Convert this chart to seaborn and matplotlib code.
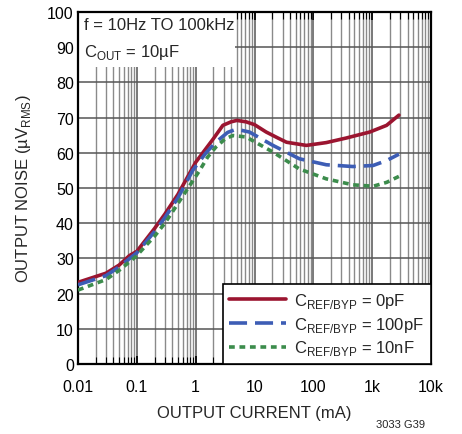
import numpy as np
import pandas as pd
import matplotlib
matplotlib.use("Agg")
import matplotlib.pyplot as plt
import seaborn as sns
from matplotlib.ticker import LogLocator, FixedLocator, NullFormatter, FixedFormatter
from matplotlib import font_manager as fm

# ---- data ----
x_0pF = [0.01, 0.03, 0.05, 0.075, 0.1, 0.2, 0.3, 0.5, 1.0, 2.0, 2.9, 4.0, 5.0, 7.2, 10, 15.8, 25, 35, 76, 166, 363, 910, 1760, 2850]
y_0pF = [23.2, 25.8, 28.1, 30.8, 32.0, 38.5, 42.6, 48.2, 57.3, 64.0, 67.8, 68.8, 69.2, 68.8, 68.0, 65.9, 64.2, 63.0, 62.1, 62.9, 64.2, 65.9, 67.8, 70.7]

x_100pF = [0.01, 0.03, 0.05, 0.1, 0.2, 0.3, 0.5, 0.89, 1.5, 2.2, 3.5, 4.9, 8.2, 20.6, 58, 166, 470, 1040, 1760, 2850]
y_100pF = [22.5, 25.1, 27.6, 31.6, 37.6, 41.6, 47.2, 55.0, 60.0, 63.0, 65.8, 66.7, 65.9, 62.1, 58.3, 56.6, 56.1, 56.4, 57.8, 59.6]

x_10nF = [0.01, 0.03, 0.05, 0.096, 0.2, 0.3, 0.5, 1.17, 1.6, 2.2, 3.2, 4.3, 7.2, 20.6, 58, 166, 470, 1040, 1760, 2850]
y_10nF = [21.0, 24.0, 26.6, 30.5, 36.3, 40.0, 45.6, 55.0, 58.8, 61.6, 64.0, 64.9, 64.5, 60.2, 55.4, 52.6, 50.9, 50.5, 51.6, 53.3]

labels = [r"C$_{\mathregular{REF/BYP}}$ = 0pF",
          r"C$_{\mathregular{REF/BYP}}$ = 100pF",
          r"C$_{\mathregular{REF/BYP}}$ = 10nF"]
colors = ["#9B1530", "#3D5DB5", "#3C8C4C"]

xticks = [0.01, 0.1, 1, 10, 100, 1000, 10000]
xticklabels = ["0.01", "0.1", "1", "10", "100", "1k", "10k"]
yticks = list(range(0, 101, 10))

sns.set_theme(style="white")
names = {f.name for f in fm.fontManager.ttflist}
main = "Liberation Sans Narrow" if "Liberation Sans Narrow" in names else "Liberation Sans"
narrow = main == "Liberation Sans Narrow"
plt.rcParams["font.family"] = [main, "DejaVu Sans"]
plt.rcParams["mathtext.fontset"] = "custom"
plt.rcParams["mathtext.rm"] = main
fs = 13.5 if narrow else 12
fst = 13 if narrow else 11.5

fig = plt.figure(figsize=(4.62, 4.35), dpi=100)
ax = fig.add_axes([78/462, 1-365/435, (431-78)/462, (365-13)/435])

dfs = [pd.DataFrame({"x": x_0pF, "y": y_0pF}),
       pd.DataFrame({"x": x_100pF, "y": y_100pF}),
       pd.DataFrame({"x": x_10nF, "y": y_10nF})]
styles = [dict(linestyle="-"), dict(dashes=(5, 2.2)), dict(dashes=(1.6, 1.3))]
for df, lab, col, st in zip(dfs, labels, colors, styles):
    sns.lineplot(data=df, x="x", y="y", ax=ax, color=col, lw=2.6, label=lab, zorder=4, **st)

ax.set_xscale("log")
ax.set_xlim(0.01, 10000)
ax.set_ylim(0, 100)
ax.xaxis.set_major_locator(FixedLocator(xticks))
ax.xaxis.set_major_formatter(FixedFormatter(xticklabels))
ax.xaxis.set_minor_locator(LogLocator(base=10, subs=np.arange(2, 10), numticks=20))
ax.xaxis.set_minor_formatter(NullFormatter())
ax.set_yticks(yticks)

ax.grid(True, which="major", axis="both", color="#555555", lw=1.1, zorder=0)
ax.grid(True, which="minor", axis="x", color="#8a8a8a", lw=1.0, zorder=0)
ax.set_axisbelow(True)

ax.tick_params(axis="both", which="major", direction="in", length=0, labelsize=fst, colors="black", pad=3)
ax.tick_params(axis="x", which="minor", direction="in", length=5, top=True, bottom=True, color="black", width=0.8)
ax.tick_params(axis="x", which="major", top=True, bottom=True, length=6, color="black", pad=11)
for s in ax.spines.values():
    s.set_color("black")
    s.set_linewidth(1.6)

ax.set_xlabel("OUTPUT CURRENT (mA)", fontsize=fs, labelpad=8)
ax.set_ylabel(r"OUTPUT NOISE (µV$_{\mathregular{RMS}}$)", fontsize=fs, labelpad=10)

# annotation box (top-left)
ax.add_patch(plt.Rectangle((0, 0.845), 0.446, 0.155, transform=ax.transAxes,
                           facecolor="white", edgecolor="none", zorder=2.5))
ax.text(0.018, 0.985, "f = 10Hz TO 100kHz", transform=ax.transAxes, fontsize=fs,
        va="top", ha="left", zorder=5)
ax.text(0.018, 0.915, r"C$_{\mathregular{OUT}}$ = 10µF", transform=ax.transAxes, fontsize=fs,
        va="top", ha="left", zorder=5)

leg = ax.legend(loc="lower right", fontsize=fs, frameon=True, fancybox=False,
                borderaxespad=0, handlelength=3.4, handletextpad=0.5,
                labelspacing=0.28, borderpad=0.4)
leg.get_frame().set_edgecolor("black")
leg.get_frame().set_linewidth(1.2)
leg.get_frame().set_facecolor("white")
leg.get_frame().set_alpha(1)
leg.set_zorder(3)

fig.text(400/462, 1-425/435, "3033 G39", fontsize=8, ha="center", va="center")

fig.savefig("out.png", dpi=100)
